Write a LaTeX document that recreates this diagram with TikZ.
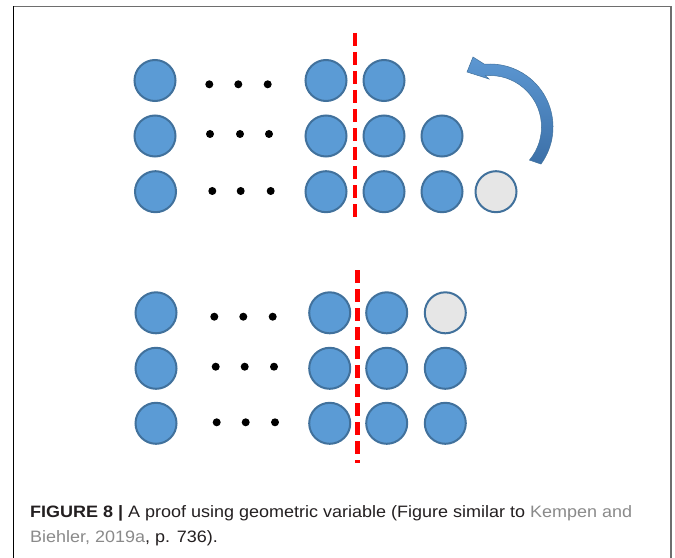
\documentclass[tikz,border=0pt]{standalone}
\usepackage{fontspec}
\setmainfont{Liberation Sans}
\usetikzlibrary{calc}

\definecolor{ballfill}{HTML}{5B9BD5}
\definecolor{balledge}{HTML}{41719C}
\definecolor{ballgray}{HTML}{E6E6E6}
\definecolor{cutred}{HTML}{FF0000}
\definecolor{arrowlight}{HTML}{5C97D2}
\definecolor{arrowdark}{HTML}{3C70A8}
\definecolor{captext}{HTML}{231F20}
\definecolor{caplink}{HTML}{8A8A8A}
\definecolor{frameline}{HTML}{6E6E6E}

\newsavebox\capboxA
\newsavebox\capboxB

\begin{document}
% caption lines, set once and stretched to the measured line width
\sbox\capboxA{\fontsize{16.5bp}{20bp}\selectfont\color{captext}\textbf{FIGURE 8 |} A proof using geometric variable (Figure similar to \textcolor{caplink}{Kempen and}}
\sbox\capboxB{\fontsize{16.5bp}{20bp}\selectfont\color{captext}\textcolor{caplink}{Biehler, 2019a}, p. 736).}
\pgfmathsetmacro\capsx{602bp/\wd\capboxA}%
\begin{tikzpicture}[x=1bp,y=-1bp,
  ball/.style={circle, draw=balledge, fill=ballfill, line width=2bp,
               minimum size=41bp, inner sep=0pt},
  emptyball/.style={ball, fill=ballgray},
  dotmark/.style={circle, fill=black, minimum size=8bp, inner sep=0pt},
  cutline/.style={draw=cutred, line width=4.5bp, dash pattern=on 13bp off 6bp},
  captionline/.style={anchor=base west, inner sep=0pt},
]
\useasboundingbox (0,0) rectangle (675,558);

% frame
\coordinate (frTL) at (13.5,6.5);
\coordinate (frTR) at (671,6.5);
\coordinate (frBL) at (13.5,558);
\coordinate (frBR) at (671,558);
\draw[frameline, line width=1.5bp] (frTL) -- (frTR);
\draw[black, line width=1.5bp] (frTL) -- (frBL);
\draw[frameline, line width=2bp] (frTR) -- (frBR);

% upper arrangement
\node[ball] (t11) at (155,80.5) {};
\node[ball] (t14) at (326,80.5) {};
\node[ball] (t15) at (384,80.5) {};
\node[ball] (t21) at (155,136) {};
\node[ball] (t24) at (326,136) {};
\node[ball] (t25) at (384,136) {};
\node[ball] (t26) at (442,136) {};
\node[ball] (t31) at (155.5,191.7) {};
\node[ball] (t34) at (326,191.7) {};
\node[ball] (t35) at (384,191.7) {};
\node[ball] (t36) at (442,191.7) {};
\node[emptyball] (t37) at (496,191.7) {};

\node[dotmark] (td11) at (209.3,84.3) {};
\node[dotmark] (td12) at (238.3,84.3) {};
\node[dotmark] (td13) at (267.7,84.3) {};
\node[dotmark] (td21) at (210,134) {};
\node[dotmark] (td22) at (240,134) {};
\node[dotmark] (td23) at (269,134) {};
\node[dotmark] (td31) at (212.3,191) {};
\node[dotmark] (td32) at (240.7,191) {};
\node[dotmark] (td33) at (270.7,191) {};

\coordinate (cutTtop) at (355,33);
\coordinate (cutTbot) at (355,223);
\draw[cutline] (cutTtop) -- (cutTbot);

% curved arrow moving the last ball to the top
\coordinate (arc) at (490,127);
\shade[top color=arrowlight, bottom color=arrowdark, draw=balledge, line width=0.5bp]
  ($(arc)+(36:63)$) arc[start angle=36, end angle=-95, radius=63]
  -- (473,57) -- (467,72) -- (489,79)
  -- ($(arc)+(-95:51.5)$) arc[start angle=-95, end angle=40, radius=51.5]
  -- cycle;

% lower arrangement
\node[ball] (b11) at (156,312.8) {};
\node[ball] (b14) at (329.7,312.8) {};
\node[ball] (b15) at (386.7,312.8) {};
\node[emptyball] (b16) at (445.3,312.8) {};
\node[ball] (b21) at (156,368.3) {};
\node[ball] (b24) at (329.7,368.3) {};
\node[ball] (b25) at (386.7,368.3) {};
\node[ball] (b26) at (445.3,368.3) {};
\node[ball] (b31) at (156,423.3) {};
\node[ball] (b34) at (329.7,423.3) {};
\node[ball] (b35) at (386.7,423.3) {};
\node[ball] (b36) at (445.3,423.3) {};

\node[dotmark] (bd11) at (214.3,316.7) {};
\node[dotmark] (bd12) at (243.3,316.7) {};
\node[dotmark] (bd13) at (272.7,316.7) {};
\node[dotmark] (bd21) at (215.7,366.7) {};
\node[dotmark] (bd22) at (244.7,366.7) {};
\node[dotmark] (bd23) at (274,366.7) {};
\node[dotmark] (bd31) at (216.7,422.3) {};
\node[dotmark] (bd32) at (245.7,422.3) {};
\node[dotmark] (bd33) at (275,422.3) {};

\coordinate (cutBtop) at (357.3,270);
\coordinate (cutBbot) at (357.3,463);
\draw[cutline] (cutBtop) -- (cutBbot);

% caption
\node[captionline] (capA) at (30,517) {\scalebox{\capsx}[1]{\usebox\capboxA}};
\node[captionline] (capB) at (30,542) {\scalebox{\capsx}[1]{\usebox\capboxB}};
\end{tikzpicture}
\end{document}
